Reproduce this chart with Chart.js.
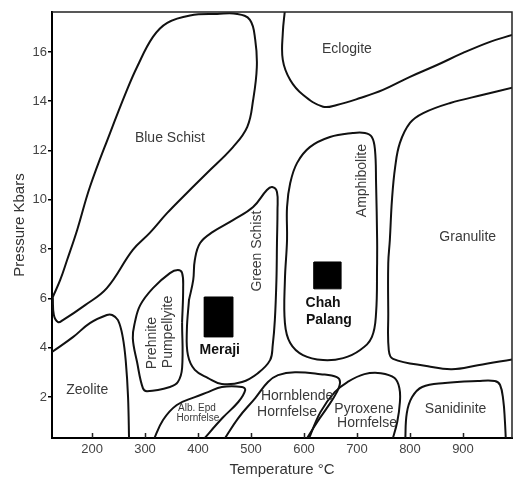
<!DOCTYPE html>
<html>
<head>
<meta charset="utf-8">
<script src="https://cdn.jsdelivr.net/npm/chart.js@4.4.1/dist/chart.umd.min.js"></script>
<style>
  html, body { margin: 0; padding: 0; background: #fff; }
  #wrap { width: 513px; height: 481px; position: relative; }
</style>
</head>
<body>
<div id="wrap"><canvas id="facies"></canvas></div>
<script>
// Axis ranges and ticks
const tempMin = 124.5, tempMax = 992.5;
const presMin = 0.34, presMax = 17.62;
const xTicks = [200, 300, 400, 500, 600, 700, 800, 900];
const yTicks = [2, 4, 6, 8, 10, 12, 14, 16];

// Facies outlines (temperature °C, pressure kbar)
const blueSchistT = [126, 140, 153, 172, 196, 234, 266, 285, 315, 342, 385, 436, 474, 498, 508, 511, 504, 493, 466, 417, 379, 342, 309, 277, 228, 187, 145, 136, 128, 126];
const blueSchistP = [6.06, 6.75, 7.56, 8.78, 10.52, 12.71, 14.46, 15.39, 16.61, 17.18, 17.48, 17.54, 17.54, 17.3, 16.49, 15.39, 14.05, 12.96, 12.14, 11.09, 10.28, 9.47, 8.66, 7.97, 6.42, 5.73, 5.12, 5.04, 5.33, 6.06];

const eclogiteT = [564, 560, 560, 574, 598, 636, 662, 706, 749, 800, 851, 900, 951, 993];
const eclogiteP = [17.7, 16.77, 15.68, 14.86, 14.26, 13.78, 13.85, 14.13, 14.46, 14.99, 15.47, 15.96, 16.41, 16.69];

const granuliteT = [993, 938, 876, 825, 800, 781, 772, 766, 762, 759, 759, 760, 768, 834, 879, 928, 993];
const granuliteP = [14.55, 14.26, 13.93, 13.52, 13.12, 12.31, 11.33, 10.0, 8.37, 7.44, 5.41, 3.9, 3.55, 3.25, 3.13, 3.29, 3.53];

const amphiboliteT = [738, 738, 736, 734, 728, 715, 692, 649, 611, 587, 574, 568, 568, 564, 564, 574, 598, 636, 674, 706, 728, 736, 738];
const amphiboliteP = [7.44, 8.37, 10.68, 12.02, 12.55, 12.71, 12.71, 12.55, 12.14, 11.5, 10.68, 9.71, 8.37, 6.75, 5.0, 4.19, 3.7, 3.5, 3.58, 3.91, 4.43, 5.41, 7.44];

const greenSchistT = [383, 391, 394, 404, 428, 466, 504, 530, 540, 549, 550, 549, 548, 545, 541, 536, 513, 483, 445, 419, 394, 381, 379, 383];
const greenSchistP = [5.94, 6.75, 7.56, 8.25, 8.70, 9.18, 9.71, 10.40, 10.52, 10.32, 9.59, 8.25, 6.75, 5.12, 4.11, 3.50, 2.97, 2.61, 2.53, 2.77, 3.10, 3.70, 4.72, 5.94];

const prehniteT = [370, 372, 370, 362, 347, 315, 291, 281, 277, 285, 296, 304, 347, 362, 370, 370];
const prehniteP = [5.04, 6.42, 7.03, 7.15, 7.03, 6.42, 5.73, 5.04, 4.39, 3.42, 2.36, 2.24, 2.41, 2.61, 3.18, 5.04];

const zeoliteT = [124.5, 164, 196, 228, 238, 249, 258, 264, 268, 270];
const zeoliteP = [3.83, 4.43, 5.0, 5.33, 5.33, 5.12, 4.43, 3.38, 2.0, 0.2];

const albEpdT = [315, 334, 360, 394, 419, 445, 483, 489, 476, 446, 407];
const albEpdP = [0.2, 1.07, 1.68, 2.0, 2.2, 2.41, 2.41, 2.28, 1.8, 1.15, 0.2];

const hornblendeT = [447, 476, 508, 532, 551, 583, 631, 662, 668, 662, 643, 625, 602];
const hornblendeP = [0.2, 1.15, 1.96, 2.61, 2.89, 3.01, 2.93, 2.81, 2.6, 2.2, 1.55, 0.99, 0.2];

const pyroxeneT = [607, 631, 658, 682, 714, 745, 771, 780, 781, 776, 766];
const pyroxeneP = [0.2, 1.39, 2.2, 2.61, 2.93, 2.97, 2.77, 2.36, 1.8, 1.0, 0.2];

const sanidiniteT = [791, 794, 804, 823, 866, 928, 960, 970, 976, 979, 981];
const sanidiniteP = [0.2, 1.35, 2.0, 2.41, 2.57, 2.65, 2.65, 2.49, 1.88, 1.07, 0.2];

// Sample P-T boxes
const merajiT = [412, 466, 466, 412, 412];
const merajiP = [4.44, 4.44, 6.06, 6.06, 4.44];
const chahPalangT = [619, 670, 670, 619, 619];
const chahPalangP = [6.39, 6.39, 7.48, 7.48, 6.39];

const FONT = "'Liberation Sans', Arial, Helvetica, sans-serif";

// Field names placed in data space
const fieldLabels = [
  { text: "Blue Schist", t: 347, p: 12.5 },
  { text: "Eclogite", t: 681, p: 16.12 },
  { text: "Amphibolite", t: 709, p: 10.78, rot: -90 },
  { text: "Granulite", t: 909, p: 8.49 },
  { text: "Green Schist", t: 511, p: 7.92, rot: -90 },
  { text: "Prehnite", t: 313, p: 4.19, rot: -90 },
  { text: "Pumpellyite", t: 343, p: 4.64, rot: -90 },
  { text: "Zeolite", t: 191, p: 2.28 },
  { text: "Meraji", t: 441, p: 3.91, bold: true },
  { text: "Chah", t: 636, p: 5.8, bold: true },
  { text: "Palang", t: 647, p: 5.12, bold: true },
  { text: "Alb. Epd", t: 398, p: 1.55, size: 10 },
  { text: "Hornfelse", t: 400, p: 1.13, size: 10 },
  { text: "Hornblende", t: 587, p: 2.04 },
  { text: "Hornfelse", t: 568, p: 1.39 },
  { text: "Pyroxene", t: 713, p: 1.51 },
  { text: "Hornfelse", t: 719, p: 0.94 },
  { text: "Sanidinite", t: 886, p: 1.51 }
];

function pts(T, P) {
  return T.map((t, i) => ({ x: t, y: P[i] }));
}

function outline(T, P) {
  return {
    data: pts(T, P),
    showLine: true,
    borderColor: "#111",
    borderWidth: 2,
    pointRadius: 0,
    tension: 0.4,
    fill: false
  };
}

function box(T, P) {
  return {
    data: pts(T, P),
    showLine: true,
    borderColor: "#000",
    backgroundColor: "#000",
    borderWidth: 1,
    pointRadius: 0,
    tension: 0,
    fill: "shape"
  };
}

// Labels, inward x ticks and the top/right frame
const decorations = {
  id: "decorations",
  afterDatasetsDraw(chart) {
    const { ctx, scales: { x, y } } = chart;
    ctx.save();
    ctx.fillStyle = "#333";
    ctx.textAlign = "center";
    ctx.textBaseline = "middle";
    fieldLabels.forEach(l => {
      const size = l.size || 14;
      ctx.font = (l.bold ? "bold " : "") + size + "px " + FONT;
      ctx.fillStyle = l.bold ? "#111" : "#3a3a3a";
      ctx.save();
      ctx.translate(x.getPixelForValue(l.t), y.getPixelForValue(l.p));
      if (l.rot) ctx.rotate(l.rot * Math.PI / 180);
      ctx.fillText(l.text, 0, 0);
      ctx.restore();
    });
    ctx.restore();
  },
  afterDraw(chart) {
    const { ctx, chartArea: a, scales: { x } } = chart;
    ctx.save();
    ctx.strokeStyle = "#222";
    ctx.lineWidth = 1.5;
    ctx.beginPath();
    ctx.moveTo(a.left, a.top);
    ctx.lineTo(a.right, a.top);
    ctx.lineTo(a.right, a.bottom);
    ctx.stroke();
    ctx.lineWidth = 1.5;
    ctx.beginPath();
    xTicks.forEach(v => {
      const px = Math.round(x.getPixelForValue(v)) + 0.5;
      ctx.moveTo(px, a.bottom);
      ctx.lineTo(px, a.bottom - 5);
    });
    ctx.stroke();
    ctx.restore();
  }
};

new Chart(document.getElementById("facies"), {
  type: "scatter",
  data: {
    datasets: [
      outline(blueSchistT, blueSchistP),
      outline(eclogiteT, eclogiteP),
      outline(granuliteT, granuliteP),
      outline(amphiboliteT, amphiboliteP),
      outline(greenSchistT, greenSchistP),
      outline(prehniteT, prehniteP),
      outline(zeoliteT, zeoliteP),
      outline(albEpdT, albEpdP),
      outline(hornblendeT, hornblendeP),
      outline(pyroxeneT, pyroxeneP),
      outline(sanidiniteT, sanidiniteP),
      box(merajiT, merajiP),
      box(chahPalangT, chahPalangP)
    ]
  },
  options: {
    responsive: true,
    maintainAspectRatio: false,
    animation: false,
    layout: { padding: { top: 12, right: 1, left: 0, bottom: 0 } },
    plugins: { legend: { display: false }, tooltip: { enabled: false } },
    scales: {
      x: {
        type: "linear",
        min: tempMin,
        max: tempMax,
        afterBuildTicks: s => { s.ticks = xTicks.map(v => ({ value: v })); },
        afterFit: s => { s.height = 43; },
        ticks: { color: "#444", padding: 4, font: { family: FONT, size: 13 } },
        grid: { drawOnChartArea: false, drawTicks: false },
        border: { color: "#000", width: 2 },
        title: { display: true, text: "Temperature °C", color: "#333", font: { family: FONT, size: 15 }, padding: { top: 0, bottom: 2 } }
      },
      y: {
        type: "linear",
        min: presMin,
        max: presMax,
        afterBuildTicks: s => { s.ticks = yTicks.map(v => ({ value: v })); },
        afterFit: s => { s.width = 52; },
        ticks: { color: "#444", padding: 1, font: { family: FONT, size: 13 } },
        grid: { drawOnChartArea: false, drawTicks: true, tickLength: 4, color: "#000", lineWidth: 1.5 },
        border: { color: "#000", width: 2 },
        title: { display: true, text: "Pressure Kbars", color: "#333", font: { family: FONT, size: 15 }, padding: { top: 11, bottom: 0 } }
      }
    }
  },
  plugins: [decorations]
});
</script>
</body>
</html>
